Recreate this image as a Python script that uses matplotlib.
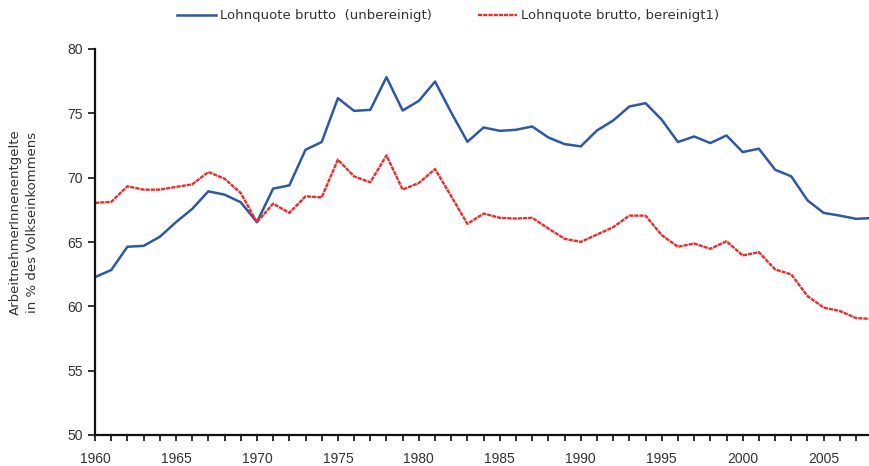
import matplotlib
matplotlib.use("Agg")
import matplotlib.pyplot as plt
from matplotlib.ticker import MultipleLocator

years = list(range(1960, 2009))
unbereinigt = [62.27, 62.82, 64.63, 64.70, 65.40, 66.54, 67.57, 68.94, 68.68, 68.09,
               66.54, 69.15, 69.40, 72.17, 72.77, 76.18, 75.19, 75.27, 77.81, 75.22,
               75.97, 77.47, 75.06, 72.79, 73.90, 73.64, 73.72, 73.98, 73.12, 72.61,
               72.43, 73.67, 74.44, 75.53, 75.79, 74.50, 72.77, 73.20, 72.69, 73.28,
               71.99, 72.25, 70.62, 70.10, 68.24, 67.26, 67.05, 66.80, 66.86]
bereinigt = [68.04, 68.12, 69.33, 69.07, 69.07, 69.28, 69.48, 70.44, 69.92, 68.81,
             66.54, 67.98, 67.26, 68.55, 68.47, 71.40, 70.10, 69.64, 71.73, 69.07,
             69.59, 70.67, 68.55, 66.41, 67.21, 66.88, 66.82, 66.88, 66.05, 65.25,
             65.01, 65.58, 66.15, 67.05, 67.05, 65.53, 64.63, 64.88, 64.47, 65.06,
             63.95, 64.21, 62.87, 62.48, 60.80, 59.90, 59.64, 59.09, 59.02]
label_unb = "Lohnquote brutto  (unbereinigt)"
label_ber = "Lohnquote brutto, bereinigt1)"
ylabel = "ArbeitnehmerInnenentgelte\nin % des Volkseinkommens"

plt.rcParams['font.family'] = ['Liberation Sans', 'DejaVu Sans']

W, H = 869, 466
fig = plt.figure(figsize=(W/100, H/100), dpi=100)
ax = fig.add_axes([95/W, 1-435/H, 1-95/W, (435-49)/H])

ax.plot(years, unbereinigt, color='#2e58a6', lw=1.8, label=label_unb)
ax.plot(years, bereinigt, color='#ee2a2a', lw=1.7, dashes=(1.8, 0.4), label=label_ber)

ax.set_xlim(1960, 2007.8)
ax.set_ylim(50, 80)
ax.xaxis.set_major_locator(MultipleLocator(5))
ax.xaxis.set_minor_locator(MultipleLocator(1))
ax.yaxis.set_major_locator(MultipleLocator(5))

for s in ['top', 'right']:
    ax.spines[s].set_visible(False)
for s in ['left', 'bottom']:
    ax.spines[s].set_linewidth(1.6)
    ax.spines[s].set_color('#111111')

ax.tick_params(axis='x', which='both', direction='out', length=4, width=1.2,
               colors='#111111', labelcolor='#333333', labelsize=10, pad=8)
ax.tick_params(axis='y', which='major', direction='out', length=5, width=1.2,
               colors='#111111', labelcolor='#333333', labelsize=10, pad=4)

fig.text(24/W, 1-222/H, ylabel, rotation=90, ha='center', va='center',
         fontsize=9.5, color='#333333', linespacing=1.5, family='DejaVu Sans',
         multialignment='center')

fig.legend(loc='center', bbox_to_anchor=(448/W, 1-16/H), ncol=2, frameon=False,
           prop={'family': 'DejaVu Sans', 'size': 9.5}, handlelength=2.95,
           handletextpad=0.3, columnspacing=3.5, labelcolor='#333333')

fig.savefig('out.png', dpi=100)
